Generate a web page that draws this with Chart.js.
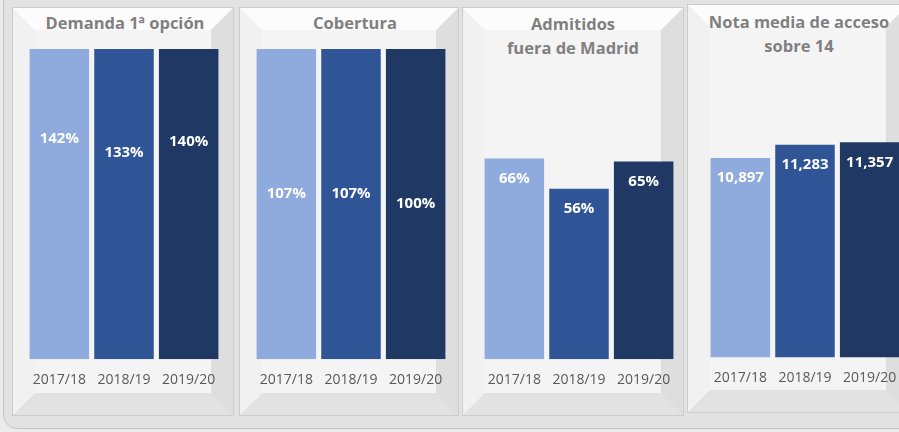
<!DOCTYPE html>
<html>
<head>
<meta charset="utf-8">
<script src="https://cdn.jsdelivr.net/npm/chart.js@4"></script>
<style>
  body { margin: 0; width: 899px; height: 432px; overflow: hidden; background: #ebebeb; position: relative; font-family: "Open Sans", sans-serif; }
  .frame { position: absolute; left: 3px; top: -14px; width: 930px; height: 441px; border: 1px solid #c4c4c4; border-radius: 14px; background: #e2e2e2; }
  .panel { position: absolute; box-sizing: border-box; border: 22px solid; border-color: #fcfcfc #dedede #e2e2e2 #f1f1f1; background: #f5f4f5; box-shadow: 0 0 0 1px #cccccc; }
  .title { position: absolute; width: 240px; text-align: center; color: #808080; font-weight: bold; font-size: 16.5px; line-height: 24px; }
  canvas { position: absolute; top: 0; }
</style>
</head>
<body>
<div class="frame"></div>
<div class="panel" style="left:13px;top:8px;width:220px;height:407px"></div>
<div class="panel" style="left:240px;top:8px;width:218px;height:407px"></div>
<div class="panel" style="left:463px;top:8px;width:220px;height:407px"></div>
<div class="panel" style="left:688px;top:5px;width:220px;height:407px"></div>

<div class="title" style="left:5px;top:11px">Demanda 1ª opción</div>
<div class="title" style="left:235px;top:11px">Cobertura</div>
<div class="title" style="left:453px;top:12px">Admitidos<br>fuera de Madrid</div>
<div class="title" style="left:679px;top:10px">Nota media de acceso<br>sobre 14</div>

<canvas id="demanda" width="210" height="432" style="left:19px"></canvas>
<canvas id="cobertura" width="210" height="432" style="left:246px"></canvas>
<canvas id="fuera" width="210" height="432" style="left:474px"></canvas>
<canvas id="nota" width="210" height="432" style="left:700px"></canvas>

<script>
const years = ['2017/18', '2018/19', '2019/20'];
const demanda = [1.42, 1.33, 1.40];
const cobertura = [1.07, 1.07, 1.00];
const admitidosFuera = [0.66, 0.56, 0.65];
const notaMedia = [10.897, 11.283, 11.357];
const barColors = ['#8FAADC', '#2F5597', '#203864'];

Chart.defaults.font.family = '"Open Sans", sans-serif';

const pct = (v) => Math.round(v * 100) + '%';
const nota = (v) => v.toFixed(3).replace('.', ',');

// white value labels near the bar top; bars that hit the axis max get the
// label in the middle of the full bar, like the original spreadsheet does
const barLabels = {
  id: 'barLabels',
  afterDatasetsDraw(chart, args, opts) {
    const { ctx } = chart;
    const y = chart.scales.y;
    const values = chart.data.datasets[0].data;
    ctx.save();
    ctx.font = 'bold 15px "Open Sans"';
    ctx.fillStyle = '#ffffff';
    ctx.textAlign = 'center';
    ctx.textBaseline = 'middle';
    chart.getDatasetMeta(0).data.forEach((bar, i) => {
      const v = values[i];
      const yPos = v >= y.max ? y.getPixelForValue((v + y.min) / 2) : bar.y + 20;
      ctx.fillText(opts.format(v), bar.x, yPos);
    });
    ctx.restore();
  }
};

function makeChart(id, values, format, min, max, padTop, padBottom) {
  return new Chart(document.getElementById(id), {
    type: 'bar',
    data: {
      labels: years,
      datasets: [{
        data: values,
        backgroundColor: barColors,
        categoryPercentage: 1,
        barPercentage: 0.92,
        clip: 0
      }]
    },
    options: {
      responsive: false,
      animation: false,
      layout: { padding: { top: padTop, bottom: padBottom, left: 8, right: 8 } },
      plugins: {
        legend: { display: false },
        tooltip: { enabled: false },
        barLabels: { format }
      },
      scales: {
        x: {
          grid: { display: false, drawTicks: false },
          border: { display: false },
          ticks: { color: '#595959', font: { size: 14 }, padding: 12, maxRotation: 0 }
        },
        y: { display: false, min, max }
      }
    },
    plugins: [barLabels]
  });
}

makeChart('demanda', demanda, pct, 0, 1, 49, 32);
makeChart('cobertura', cobertura, pct, 0, 1, 49, 32);
makeChart('fuera', admitidosFuera, pct, 0, 1, 55, 32);
makeChart('nota', notaMedia, nota, 5, 14, 53, 34);
</script>
</body>
</html>
